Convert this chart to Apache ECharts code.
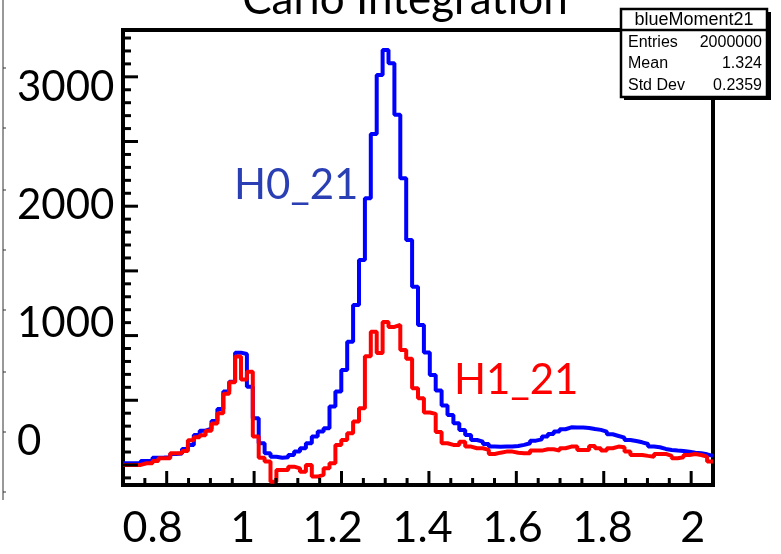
<!DOCTYPE html>
<html><head><meta charset="utf-8">
<script src="https://cdn.jsdelivr.net/npm/echarts@6/dist/echarts.min.js"></script>
<style>html,body{margin:0;padding:0;background:#fff}#c{width:781px;height:554px}</style>
</head><body><div id="c"></div>
<script>
// Histogram binning (100 bins from 0.7 to 2.05)
const binLow = 0.7;
const binWidth = 0.0135;

// H0_21 (blue) bin contents
const h0Values = [
  13, 13, 15, 31, 31, 55, 57, 60, 85, 88,
  124, 155, 232, 265, 280, 340, 433, 567, 644, 868,
  858, 605, 361, 167, 90, 64, 55, 60, 77, 103,
  129, 168, 219, 258, 283, 451, 567, 734, 953, 1237,
  1585, 2061, 2559, 3015, 3208, 3105, 2706, 2216, 1739, 1378,
  1082, 870, 696, 575, 460, 386, 322, 271, 232, 193,
  180, 162, 142, 140, 142, 142, 147, 155, 168, 188,
  198, 219, 240, 258, 276, 291, 289, 289, 286, 278,
  271, 258, 237, 224, 211, 193, 185, 175, 162, 142,
  137, 124, 116, 111, 108, 103, 95, 90, 82, 70
];

// H1_21 (red) bin contents
const h1Values = [
  0, 0, 0, 13, 13, 31, 52, 52, 90, 90,
  108, 190, 214, 230, 265, 320, 400, 550, 640, 838,
  660, 720, 219, 55, 26, -129, -39, -39, -13, -26,
  -52, 0, -90, -77, -26, 13, 155, 193, 245, 335,
  438, 840, 1030, 866, 1105, 1067, 1082, 889, 820, 593,
  515, 405, 395, 255, 168, 155, 155, 180, 142, 129,
  129, 116, 85, 95, 103, 103, 95, 90, 90, 111,
  111, 121, 121, 111, 129, 142, 142, 116, 116, 147,
  129, 111, 129, 142, 137, 103, 77, 77, 70, 64,
  85, 85, 70, 52, 59, 77, 85, 77, 64, 26
];

// Axis ticks and labels
const xTickLabels = [0.8, 1, 1.2, 1.4, 1.6, 1.8, 2];
const xMajorTicks = [0.8, 1.0, 1.2, 1.4, 1.6, 1.8, 2.0];
const xMinorTicks = [0.75, 0.85, 0.9, 0.95, 1.05, 1.1, 1.15, 1.25, 1.3, 1.35, 1.45, 1.5, 1.55, 1.65, 1.7, 1.75, 1.85, 1.9, 1.95];
const yTickLabels = [0, 1000, 2000, 3000];
const yMajorTicks = [0, 500, 1000, 1500, 2000, 2500, 3000];
const yMinorTicks = [-100, 100, 200, 300, 400, 600, 700, 800, 900, 1100, 1200, 1300, 1400, 1600, 1700, 1800, 1900, 2100, 2200, 2300, 2400, 2600, 2700, 2800, 2900, 3100, 3200, 3300];

const statTitle = 'blueMoment21';
const statRows = [['Entries', '2000000'], ['Mean', '1.324'], ['Std Dev', '0.2359']];

const xMin = binLow, xMax = binLow + h0Values.length * binWidth;
const yMin = -155, yMax = 3362;

function steps(vals) {
  const d = vals.map((v, i) => [+(binLow + i * binWidth).toFixed(5), v]);
  d.push([+(binLow + vals.length * binWidth).toFixed(5), vals[vals.length - 1]]);
  return d;
}

// ROOT-style inward ticks, positioned through the chart's own scales.
// item: [x, y, orientation (0 = x-axis tick, 1 = y-axis tick), length in px]
const tickItems = [].concat(
  xMajorTicks.map(v => [v, yMin, 0, 14]),
  xMinorTicks.map(v => [v, yMin, 0, 7]),
  yMajorTicks.map(v => [xMin, v, 1, 15]),
  yMinorTicks.map(v => [xMin, v, 1, 8])
);

const chart = echarts.init(document.getElementById('c'), null, {renderer: 'canvas'});
const bigFont = 'Lato';
const noLine = {show: false, onZero: false};
const statFont = '16px "Liberation Sans", Arial, sans-serif';

const statGraphics = [
  {type: 'rect', z: 100, shape: {x: 624, y: 12, width: 147, height: 88}, style: {fill: '#000'}},
  {type: 'rect', z: 101, shape: {x: 621, y: 9, width: 146, height: 88}, style: {fill: '#fff', stroke: '#000', lineWidth: 2.5}},
  {type: 'line', z: 102, shape: {x1: 621, y1: 30, x2: 767, y2: 30}, style: {stroke: '#000', lineWidth: 2.5}},
  {type: 'text', z: 103, x: 694, y: 20, style: {text: statTitle, font: '18px "Liberation Sans", Arial, sans-serif', fill: '#000', align: 'center', verticalAlign: 'middle'}}
];
const rowY = [43, 64, 86];
statRows.forEach((r, i) => {
  statGraphics.push({type: 'text', z: 103, x: 628, y: rowY[i], style: {text: r[0], font: statFont, fill: '#000', align: 'left', verticalAlign: 'middle'}});
  statGraphics.push({type: 'text', z: 103, x: 762, y: rowY[i], style: {text: r[1], font: statFont, fill: '#000', align: 'right', verticalAlign: 'middle'}});
});

const leftMarks = [];
[68, 128, 190, 250, 310, 372, 432, 492].forEach(y => {
  leftMarks.push({type: 'line', z: 50, shape: {x1: 3, y1: y, x2: 6, y2: y}, style: {stroke: '#333', lineWidth: 1}});
});

chart.setOption({
  animation: false,
  backgroundColor: '#fff',
  grid: {left: 123, top: 30, width: 590, height: 455, show: true, borderColor: '#000', borderWidth: 4, backgroundColor: 'transparent'},
  xAxis: [
    {type: 'value', min: xMin, max: xMax, position: 'bottom', axisLine: noLine, splitLine: {show: false},
     axisLabel: {show: false}, axisTick: {show: false}},
    {type: 'value', min: 0.7342, max: 2.0453, position: 'bottom', axisLine: noLine, splitLine: {show: false}, axisTick: {show: false},
     axisLabel: {show: true, customValues: xTickLabels, margin: 22, fontSize: 43, fontFamily: bigFont, color: '#000', formatter: v => String(v)}}
  ],
  yAxis: [
    {type: 'value', min: yMin, max: yMax, position: 'left', axisLine: noLine, splitLine: {show: false},
     axisLabel: {show: false}, axisTick: {show: false}},
    {type: 'value', min: -369, max: 3487, position: 'left', axisLine: noLine, splitLine: {show: false}, axisTick: {show: false},
     axisLabel: {show: true, customValues: yTickLabels, margin: 106, align: 'left', fontSize: 42, fontFamily: bigFont, color: '#000', formatter: v => String(v)}}
  ],
  series: [
    {name: 'H0_21', type: 'line', xAxisIndex: 0, yAxisIndex: 0, step: 'end', symbol: 'none', clip: true,
     lineStyle: {color: '#0000ff', width: 4}, itemStyle: {color: '#0000ff'}, data: steps(h0Values), z: 3},
    {name: 'H1_21', type: 'line', xAxisIndex: 0, yAxisIndex: 0, step: 'end', symbol: 'none', clip: true,
     lineStyle: {color: '#ff0000', width: 4}, itemStyle: {color: '#ff0000'}, data: steps(h1Values), z: 4},
    {name: 'ticks', type: 'custom', xAxisIndex: 0, yAxisIndex: 0, silent: true, clip: false, z: 6,
     dimensions: ['x', 'y', 'dir', 'len'], encode: {x: 0, y: 1},
     data: tickItems,
     renderItem: (params, api) => {
       const p = api.coord([api.value(0), api.value(1)]);
       const dir = api.value(2), len = api.value(3);
       const shape = dir === 0 ? {x1: p[0], y1: p[1], x2: p[0], y2: p[1] - len}
                               : {x1: p[0], y1: p[1], x2: p[0] + len, y2: p[1]};
       return {type: 'line', shape: shape, style: {stroke: '#000', lineWidth: 3}};
     }}
  ],
  graphic: [
    {type: 'text', z: 90, x: 405, y: 0, style: {text: 'Carlo Integration', font: '44px Lato', fill: '#000', align: 'center', verticalAlign: 'middle'}},
    {type: 'text', z: 90, x: 234, y: 185, style: {text: 'H0_21', font: '42px Lato', fill: '#2b3fb5', align: 'left', verticalAlign: 'middle'}},
    {type: 'text', z: 90, x: 454, y: 380, style: {text: 'H1_21', font: '42px Lato', fill: '#ff0000', align: 'left', verticalAlign: 'middle'}},
    {type: 'line', z: 50, shape: {x1: 3, y1: 0, x2: 3, y2: 500}, style: {stroke: '#333', lineWidth: 1}},
    ...leftMarks,
    ...statGraphics
  ]
});
</script>
</body></html>
